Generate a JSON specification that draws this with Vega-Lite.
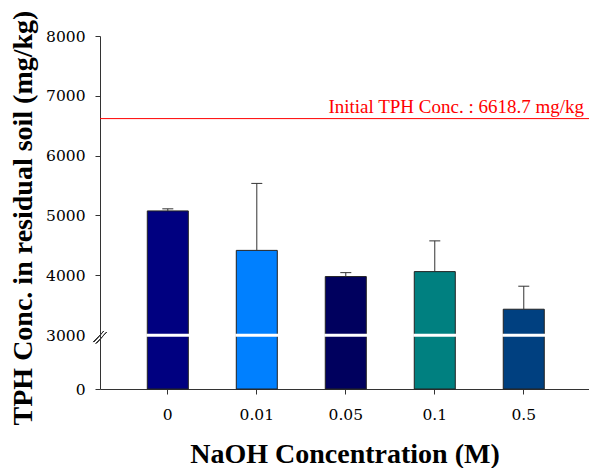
{
  "$schema": "https://vega.github.io/schema/vega-lite/v6.json",
  "autosize": {"type": "none"},
  "padding": {"left": 100, "top": 36, "right": 0, "bottom": 79},
  "width": 489,
  "height": 353,
  "background": "white",
  "config": {
    "view": {"stroke": null},
    "font": "Liberation Serif",
    "axis": {
      "grid": false,
      "domainColor": "#333333",
      "tickColor": "#333333",
      "labelColor": "black",
      "titleColor": "black",
      "titleFontSize": 28,
      "titleFontWeight": "bold",
      "tickSize": 5
    }
  },
  "data": {
    "values": [
      {"conc": "0", "mean": 5075, "upper": 5110},
      {"conc": "0.01", "mean": 4415, "upper": 5535},
      {"conc": "0.05", "mean": 3977, "upper": 4043},
      {"conc": "0.1", "mean": 4060, "upper": 4574},
      {"conc": "0.5", "mean": 3431, "upper": 3816}
    ]
  },
  "layer": [
    {
      "mark": {"type": "bar", "stroke": "#222222", "strokeWidth": 1},
      "encoding": {
        "x": {
          "field": "conc", "type": "nominal", "sort": null,
          "scale": {"paddingInner": 0.539, "paddingOuter": 0.517, "align": 0.514},
          "axis": {
            "title": "NaOH Concentration (M)",
            "labelAngle": 0,
            "labelPadding": 13,
            "labelFont": "DejaVu Serif",
            "labelFontSize": 15.5,
            "titleBaseline": "alphabetic",
            "titleY": 73
          }
        },
        "y": {
          "field": "mean", "type": "quantitative",
          "scale": {"domain": [0, 3000, 8000], "range": [353, 299, 0], "nice": false, "zero": false},
          "axis": {
            "title": "TPH Conc. in residual soil (mg/kg)",
            "values": [0, 3000, 4000, 5000, 6000, 7000, 8000],
            "format": "d",
            "labelPadding": 10,
            "labelFont": "DejaVu Serif",
            "labelFontSize": 15.5,
            "tickOpacity": {"condition": {"test": "datum.value === 3000", "value": 0}, "value": 1},
            "titleBaseline": "alphabetic",
            "titleX": -69,
            "titleY": 181.5
          }
        },
        "color": {
          "field": "conc", "type": "nominal",
          "scale": {"domain": ["0", "0.01", "0.05", "0.1", "0.5"], "range": ["#000080", "#0080FF", "#00005E", "#008080", "#004080"]},
          "legend": null
        }
      }
    },
    {
      "mark": {"type": "tick", "color": "white", "thickness": 3, "size": 43, "opacity": 1},
      "encoding": {
        "x": {"field": "conc", "type": "nominal", "sort": null},
        "y": {"datum": 2985}
      }
    },
    {
      "mark": {"type": "rule", "color": "#333333", "strokeWidth": 1},
      "encoding": {
        "x": {"field": "conc", "type": "nominal", "sort": null},
        "y": {"field": "mean", "type": "quantitative"},
        "y2": {"field": "upper"}
      }
    },
    {
      "mark": {"type": "tick", "color": "#333333", "thickness": 1, "size": 11, "opacity": 1},
      "encoding": {
        "x": {"field": "conc", "type": "nominal", "sort": null},
        "y": {"field": "upper", "type": "quantitative"}
      }
    },
    {
      "data": {"values": [{"label": "Initial TPH Conc. : 6618.7 mg/kg", "value": 6618.7}]},
      "mark": {"type": "rule", "color": "#FF0000", "strokeWidth": 1},
      "encoding": {
        "y": {"field": "value", "type": "quantitative"}
      }
    },
    {
      "data": {"values": [{"label": "Initial TPH Conc. : 6618.7 mg/kg", "value": 6618.7}]},
      "mark": {"type": "text", "color": "#FF0000", "font": "Liberation Serif", "fontSize": 19, "align": "right", "baseline": "alphabetic", "dx": -5, "dy": -6},
      "encoding": {
        "x": {"value": "width"},
        "y": {"field": "value", "type": "quantitative"},
        "text": {"field": "label"}
      }
    },
    {
      "mark": {"type": "point", "shape": "M-1,0.75L0.6,-0.95M-0.6,0.95L1,-0.75", "size": 169, "filled": false, "stroke": "#333333", "strokeWidth": 1, "opacity": 1},
      "encoding": {
        "x": {"value": 0},
        "y": {"datum": 2880}
      }
    }
  ]
}
